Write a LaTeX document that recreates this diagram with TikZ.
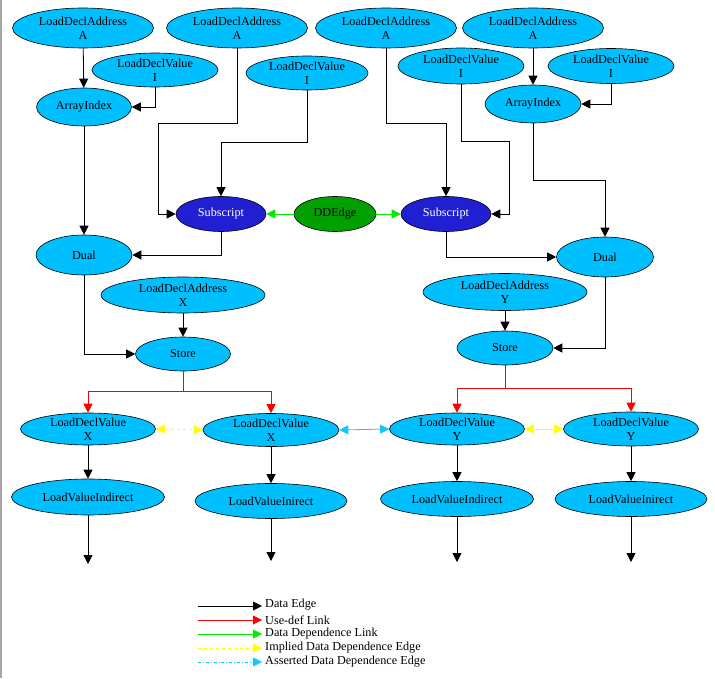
\documentclass[tikz,border=0pt]{standalone}
\usepackage{fontspec}
\setmainfont{Liberation Serif}
\usetikzlibrary{shapes.geometric,arrows.meta}
\definecolor{nodeblue}{RGB}{0,191,255}
\definecolor{subblue}{RGB}{32,32,210}
\definecolor{ddgreen}{RGB}{0,160,0}
\definecolor{lgreen}{RGB}{0,235,0}
\definecolor{dcyan}{RGB}{20,200,245}
\definecolor{dyellow}{RGB}{255,255,0}
\begin{document}
\begin{tikzpicture}[x={(1pt,0)},y={(0,-1pt)},
  every node/.style={font=\fontsize{12.2}{14}\selectfont},
  op/.style={ellipse,draw=black,line width=0.6pt,fill=nodeblue,inner sep=0pt,align=center},
  sub/.style={op,fill=subblue,text=white},
  ddnode/.style={op,fill=ddgreen},
  tip/.style={-{Triangle[length=9pt,width=9pt]}},
  dedge/.style={tip,black,line width=0.8pt},
  udedge/.style={tip,red,line width=0.8pt},
  ddlink/.style={tip,lgreen,line width=0.8pt},
  impl/.style={{Triangle[length=9pt,width=9pt]}-{Triangle[length=9pt,width=9pt]},dyellow,line width=0.8pt},
  asrt/.style={{Triangle[length=9pt,width=9pt]}-{Triangle[length=9pt,width=9pt]},dcyan,line width=0.8pt},
  legtext/.style={anchor=west,inner sep=0pt}]
\useasboundingbox (0,0) rectangle (715,679);
\draw[gray!70,line width=1.2pt] (1,0) -- (1,678);
% top row
\node[op,minimum width=141,minimum height=40] (lda1) at (83,28) {LoadDeclAddress\\A};
\node[op,minimum width=141,minimum height=40] (lda2) at (237,28) {LoadDeclAddress\\A};
\node[op,minimum width=141,minimum height=40] (lda3) at (386,28) {LoadDeclAddress\\A};
\node[op,minimum width=141,minimum height=40] (lda4) at (533,28) {LoadDeclAddress\\A};
\node[op,minimum width=126,minimum height=34] (ldv1) at (155,70) {LoadDeclValue\\I};
\node[op,minimum width=122,minimum height=34] (ldv2) at (307,73) {LoadDeclValue\\I};
\node[op,minimum width=126,minimum height=36] (ldv3) at (461,66) {LoadDeclValue\\I};
\node[op,minimum width=126,minimum height=35] (ldv4) at (611,66) {LoadDeclValue\\I};
\node[op,minimum width=95,minimum height=38] (ai1) at (84,107) {ArrayIndex};
\node[op,minimum width=96,minimum height=38] (ai2) at (533,104) {ArrayIndex};
\node[sub,minimum width=90,minimum height=35] (sub1) at (221,214) {Subscript};
\node[ddnode,minimum width=82,minimum height=35] (dd) at (335,214) {DDEdge};
\node[sub,minimum width=90,minimum height=35] (sub2) at (446,214) {Subscript};
\node[op,minimum width=96,minimum height=40] (dual1) at (84,255) {Dual};
\node[op,minimum width=97,minimum height=40] (dual2) at (605,257) {Dual};
\node[op,minimum width=164,minimum height=36] (ldax) at (183,295) {LoadDeclAddress\\X};
\node[op,minimum width=164,minimum height=37] (lday) at (505,292) {LoadDeclAddress\\Y};
\node[op,minimum width=95,minimum height=34] (st1) at (183,354) {Store};
\node[op,minimum width=96,minimum height=34] (st2) at (505,348) {Store};
\node[op,minimum width=135,minimum height=32] (lvx1) at (88,429) {LoadDeclValue\\X};
\node[op,minimum width=136,minimum height=33] (lvx2) at (271,430) {LoadDeclValue\\X};
\node[op,minimum width=135,minimum height=32] (lvy1) at (457,429) {LoadDeclValue\\Y};
\node[op,minimum width=135,minimum height=34] (lvy2) at (631,429) {LoadDeclValue\\Y};
\node[op,minimum width=153,minimum height=36] (lvi1) at (88,497) {LoadValueIndirect};
\node[op,minimum width=152,minimum height=35] (lvi2) at (271,501) {LoadValueInirect};
\node[op,minimum width=153,minimum height=35] (lvi3) at (457,499) {LoadValueIndirect};
\node[op,minimum width=152,minimum height=35] (lvi4) at (631,499) {LoadValueInirect};
% free ends
\coordinate (e1) at (88,564);
\coordinate (e2) at (271,561);
\coordinate (e3) at (457,562);
\coordinate (e4) at (631,562);
\coordinate (j1) at (183,391);
\coordinate (j2) at (505,388);
% data edges
\draw[dedge] (lda1) -- (ai1);
\draw[dedge] (ldv1.south) |- (ai1.east);
\draw[dedge] (lda2.south) |- (158,123) |- (sub1.west);
\draw[dedge] (ldv2.south) |- (221,142) -- (sub1.north);
\draw[dedge] (lda3.south) |- (446,123) -- (sub2.north);
\draw[dedge] (ldv3.south) |- (509,141) |- (sub2.east);
\draw[dedge] (lda4) -- (ai2);
\draw[dedge] (ldv4.south) |- (ai2.east);
\draw[dedge] (ai1) -- (dual1);
\draw[dedge] (ai2.south) |- (605,180) -- (dual2.north);
\draw[dedge] (sub1.south) |- (dual1.east);
\draw[dedge] (sub2.south) |- (dual2.west);
\draw[dedge] (dual1.south) |- (st1.west);
\draw[dedge] (dual2.south) |- (st2.east);
\draw[dedge] (ldax) -- (st1);
\draw[dedge] (lday) -- (st2);
\draw[dedge] (lvx1) -- (lvi1);
\draw[dedge] (lvx2) -- (lvi2);
\draw[dedge] (lvy1) -- (lvi3);
\draw[dedge] (lvy2) -- (lvi4);
\draw[dedge] (lvi1) -- (e1);
\draw[dedge] (lvi2) -- (e2);
\draw[dedge] (lvi3) -- (e3);
\draw[dedge] (lvi4) -- (e4);
% DD links
\draw[ddlink] (dd) -- (sub1);
\draw[ddlink] (dd) -- (sub2);
% use-def links
\draw[red,line width=0.8pt] (st1.south) -- (j1);
\draw[udedge] (j1) -| (lvx1.north);
\draw[udedge] (j1) -| (lvx2.north);
\draw[red,line width=0.8pt] (st2.south) -- (j2);
\draw[udedge] (j2) -| (lvy1.north);
\draw[udedge] (j2) -| (lvy2.north);
% implied / asserted
\draw[impl,dashed] (lvx1.east) -- (lvx2.west);
\draw[impl] (lvy1.east) -- (lvy2.west);
\draw[asrt] (lvx2.east) -- (lvy1.west);
% legend
\coordinate (la1) at (198,606); \coordinate (lb1) at (262,606);
\coordinate (la2) at (198,620); \coordinate (lb2) at (262,620);
\coordinate (la3) at (198,634); \coordinate (lb3) at (262,634);
\coordinate (la4) at (198,648); \coordinate (lb4) at (262,648);
\coordinate (la5) at (198,662); \coordinate (lb5) at (262,662);
\draw[dedge] (la1) -- (lb1);
\draw[udedge] (la2) -- (lb2);
\draw[ddlink] (la3) -- (lb3);
\draw[tip,dyellow,line width=0.8pt,dashed] (la4) -- (lb4);
\draw[tip,dcyan,line width=0.8pt,dash dot] (la5) -- (lb5);
\node[legtext] (t1) at (265,605) {Data Edge};
\node[legtext] (t2) at (265,620) {Use-def Link};
\node[legtext] (t3) at (265,634) {Data Dependence Link};
\node[legtext] (t4) at (265,648) {Implied Data Dependence Edge};
\node[legtext] (t5) at (265,662) {Asserted Data Dependence Edge};
\end{tikzpicture}
\end{document}
